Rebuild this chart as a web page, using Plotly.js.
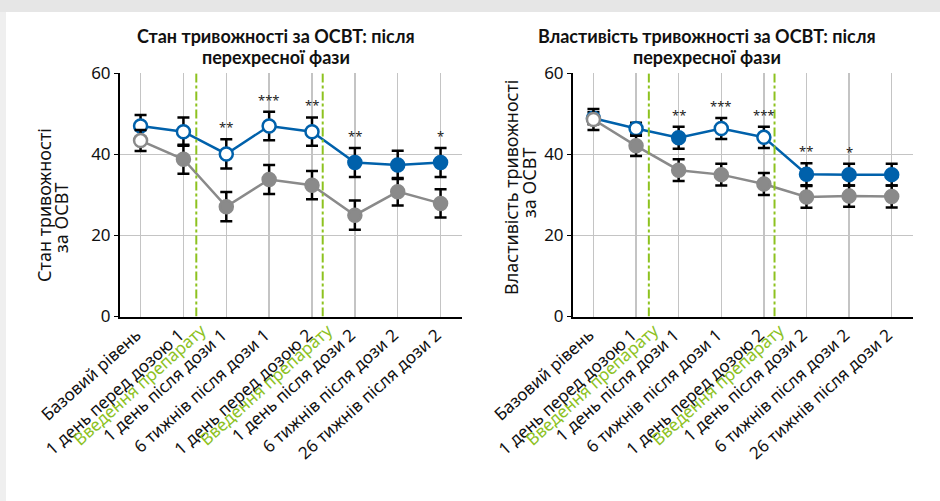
<!DOCTYPE html>
<html>
<head>
<meta charset="utf-8">
<script src="https://cdn.plot.ly/plotly-3.0.1.min.js"></script>
<style>
  html, body { margin: 0; padding: 0; background: #ffffff; }
  #chart { width: 940px; height: 501px; }
</style>
</head>
<body>
<div id="chart"></div>
<script>
// Time points of the study
const categories = [
  'Базовий рівень',
  '1 день перед дозою 1',
  '1 день після дози 1',
  '6 тижнів після дози 1',
  '1 день перед дозою 2',
  '1 день після дози 2',
  '6 тижнів після дози 2',
  '26 тижнів після дози 2'
];
// Dosing events (between time points)
const doseLabels = ['Введення препарату', 'Введення препарату'];
const dosePositions = [1.3, 4.25];

// State anxiety (left panel)
const stateBlue = [47.0, 45.6, 40.1, 47.0, 45.6, 38.0, 37.4, 38.0];
const stateBlueErr = [2.7, 3.5, 3.6, 3.5, 3.5, 3.6, 3.5, 3.6];
const stateBlueOpen = [true, true, true, true, true, false, false, false];
const stateGray = [43.4, 38.8, 27.1, 33.8, 32.4, 25.0, 30.8, 27.9];
const stateGrayErr = [2.6, 3.6, 3.6, 3.6, 3.5, 3.6, 3.4, 3.5];
const stateGrayOpen = [true, false, false, false, false, false, false, false];
const stateSig = ['', '', '**', '***', '**', '**', '', '*'];

// Trait anxiety (right panel)
const traitBlue = [48.9, 46.4, 44.1, 46.4, 44.2, 35.1, 35.0, 35.0];
const traitBlueErr = [1.5, 1.4, 2.7, 2.6, 2.6, 2.7, 2.7, 2.7];
const traitBlueOpen = [true, true, false, true, true, false, false, false];
const traitGray = [48.6, 42.1, 36.1, 35.0, 32.7, 29.5, 29.7, 29.6];
const traitGrayErr = [2.6, 2.5, 2.7, 2.7, 2.7, 2.7, 2.6, 2.7];
const traitGrayOpen = [true, false, false, false, false, false, false, false];
const traitSig = ['', '', '**', '***', '***', '**', '*', ''];

// Panel titles and value-axis titles, one entry per line
const leftTitle = ['Стан тривожності за ОСВТ: після', 'перехресної фази'];
const rightTitle = ['Властивість тривожності за ОСВТ: після', 'перехресної фази'];
const leftYTitle = ['Стан тривожності', 'за ОСВТ'];
const rightYTitle = ['Властивість тривожності', 'за ОСВТ'];
const yTicks = [0, 20, 40, 60];

const BLUE = '#0061ab';
const GRAY = '#8a8a8a';
const GREEN = '#8dc21f';
const FONT = 'Noto Sans, Open Sans, sans-serif';
const W = 940, H = 501;
const px = v => v / W;          // horizontal pixel -> paper
const py = v => (H - v) / H;    // vertical pixel (from top) -> paper

const xIdx = categories.map((_, i) => i);

function series(values, errs, open, color, xa, ya) {
  return {
    type: 'scatter', mode: 'lines+markers',
    x: xIdx, y: values, xaxis: xa, yaxis: ya,
    line: { color: color, width: 2.5 },
    marker: {
      size: 13,
      color: open.map(o => o ? '#ffffff' : color),
      line: { color: color, width: 2.5 }
    },
    error_y: { type: 'data', array: errs, visible: true, color: '#000000', thickness: 2.5, width: 6 },
    hoverinfo: 'skip', showlegend: false, cliponaxis: false
  };
}

const traces = [
  series(stateBlue, stateBlueErr, stateBlueOpen, BLUE, 'x', 'y'),
  series(stateGray, stateGrayErr, stateGrayOpen, GRAY, 'x', 'y'),
  series(traitBlue, traitBlueErr, traitBlueOpen, BLUE, 'x2', 'y2'),
  series(traitGray, traitGrayErr, traitGrayOpen, GRAY, 'x2', 'y2'),
  // invisible anchors for the dose-label axes
  { type: 'scatter', x: dosePositions, y: [0, 0], xaxis: 'x3', yaxis: 'y', mode: 'none', hoverinfo: 'skip', showlegend: false },
  { type: 'scatter', x: dosePositions, y: [0, 0], xaxis: 'x4', yaxis: 'y2', mode: 'none', hoverinfo: 'skip', showlegend: false }
];

const leftDomain = [px(120), px(462)];
const rightDomain = [px(573), px(913)];
const yDomain = [py(316.5), py(73.3)];
const xRange = [-0.48, 7.5];
const TICK_SIZE = 17;
const TICK_ANGLE = -42;

function catAxis(domain, anchor) {
  return {
    domain: domain, anchor: anchor, range: xRange,
    tickmode: 'array', tickvals: xIdx, ticktext: categories,
    tickangle: TICK_ANGLE, ticklabelshift: -4,
    tickfont: { family: FONT, size: TICK_SIZE, color: '#111111' },
    showgrid: true, gridcolor: '#c4c4c4', gridwidth: 1.5,
    showline: true, linecolor: '#000000', linewidth: 2,
    ticks: '', zeroline: false, fixedrange: true
  };
}
function doseAxis(domain, anchor, over) {
  return {
    domain: domain, anchor: anchor, overlaying: over, range: xRange,
    tickmode: 'array', tickvals: dosePositions, ticktext: doseLabels,
    tickangle: TICK_ANGLE, ticklabelshift: 5,
    tickfont: { family: FONT, size: TICK_SIZE, color: GREEN },
    showgrid: false, showline: false, ticks: '', zeroline: false, fixedrange: true
  };
}
function valAxis(anchor) {
  return {
    domain: yDomain, anchor: anchor, range: [0, 60],
    tickmode: 'array', tickvals: yTicks,
    tickfont: { family: FONT, size: 17, color: '#111111' },
    showgrid: true, gridcolor: '#c4c4c4', gridwidth: 1.5,
    showline: true, linecolor: '#000000', linewidth: 2,
    ticks: 'outside', ticklen: 4, tickcolor: '#000000', tickwidth: 1,
    zeroline: false, fixedrange: true
  };
}

const annotations = [];
function textLine(text, x, y, size, family, weight, angle) {
  annotations.push({
    text: text, xref: 'paper', yref: 'paper', x: px(x), y: py(y),
    xanchor: 'center', yanchor: 'middle', showarrow: false, textangle: angle || 0,
    font: { family: family, size: size, color: '#111111', weight: weight }
  });
}
// panel titles
const TITLE_FONT = 'Lato, sans-serif';
textLine(leftTitle[0], 276, 36, 18, TITLE_FONT, 'bold');
textLine(leftTitle[1], 276, 57, 18, TITLE_FONT, 'bold');
textLine(rightTitle[0], 707, 36, 18, TITLE_FONT, 'bold');
textLine(rightTitle[1], 707, 57, 18, TITLE_FONT, 'bold');
// value-axis titles
textLine(leftYTitle[0], 44, 205, 18, FONT, 'normal', -90);
textLine(leftYTitle[1], 61, 218, 18, FONT, 'normal', -90);
textLine(rightYTitle[0], 511, 187, 18, FONT, 'normal', -90);
textLine(rightYTitle[1], 529, 183, 18, FONT, 'normal', -90);

function sigMarks(sig, vals, errs, xa, ya) {
  sig.forEach((s, i) => {
    if (!s) return;
    annotations.push({
      text: s, x: i, y: vals[i] + errs[i], xref: xa, yref: ya,
      xanchor: 'center', yanchor: 'bottom', yshift: 1, showarrow: false,
      font: { family: FONT, size: 13, color: '#222222' }
    });
  });
}
sigMarks(stateSig, stateBlue, stateBlueErr, 'x', 'y');
sigMarks(traitSig, traitBlue, traitBlueErr, 'x2', 'y2');

const shapes = [
  // card frame: top band and left edge
  { type: 'rect', xref: 'paper', yref: 'paper', x0: 0, x1: 1, y0: py(12), y1: 1, fillcolor: '#e6e6e6', line: { width: 0 }, layer: 'below' },
  { type: 'rect', xref: 'paper', yref: 'paper', x0: 0, x1: px(6), y0: 0, y1: py(12), fillcolor: '#efefef', line: { width: 0 }, layer: 'below' }
];
dosePositions.forEach(p => {
  shapes.push({ type: 'line', xref: 'x', yref: 'y', x0: p, x1: p, y0: 0, y1: 60, line: { color: GREEN, width: 2, dash: 'dashdot' } });
  shapes.push({ type: 'line', xref: 'x2', yref: 'y2', x0: p, x1: p, y0: 0, y1: 60, line: { color: GREEN, width: 2, dash: 'dashdot' } });
});

const layout = {
  width: W, height: H,
  margin: { l: 0, r: 0, t: 0, b: 0 },
  paper_bgcolor: '#ffffff', plot_bgcolor: 'rgba(0,0,0,0)',
  showlegend: false,
  xaxis: catAxis(leftDomain, 'y'),
  xaxis2: catAxis(rightDomain, 'y2'),
  xaxis3: doseAxis(leftDomain, 'y', 'x'),
  xaxis4: doseAxis(rightDomain, 'y2', 'x2'),
  yaxis: valAxis('x'),
  yaxis2: valAxis('x2'),
  annotations: annotations,
  shapes: shapes
};

Plotly.newPlot('chart', traces, layout, { staticPlot: true, displayModeBar: false });
</script>
</body>
</html>
